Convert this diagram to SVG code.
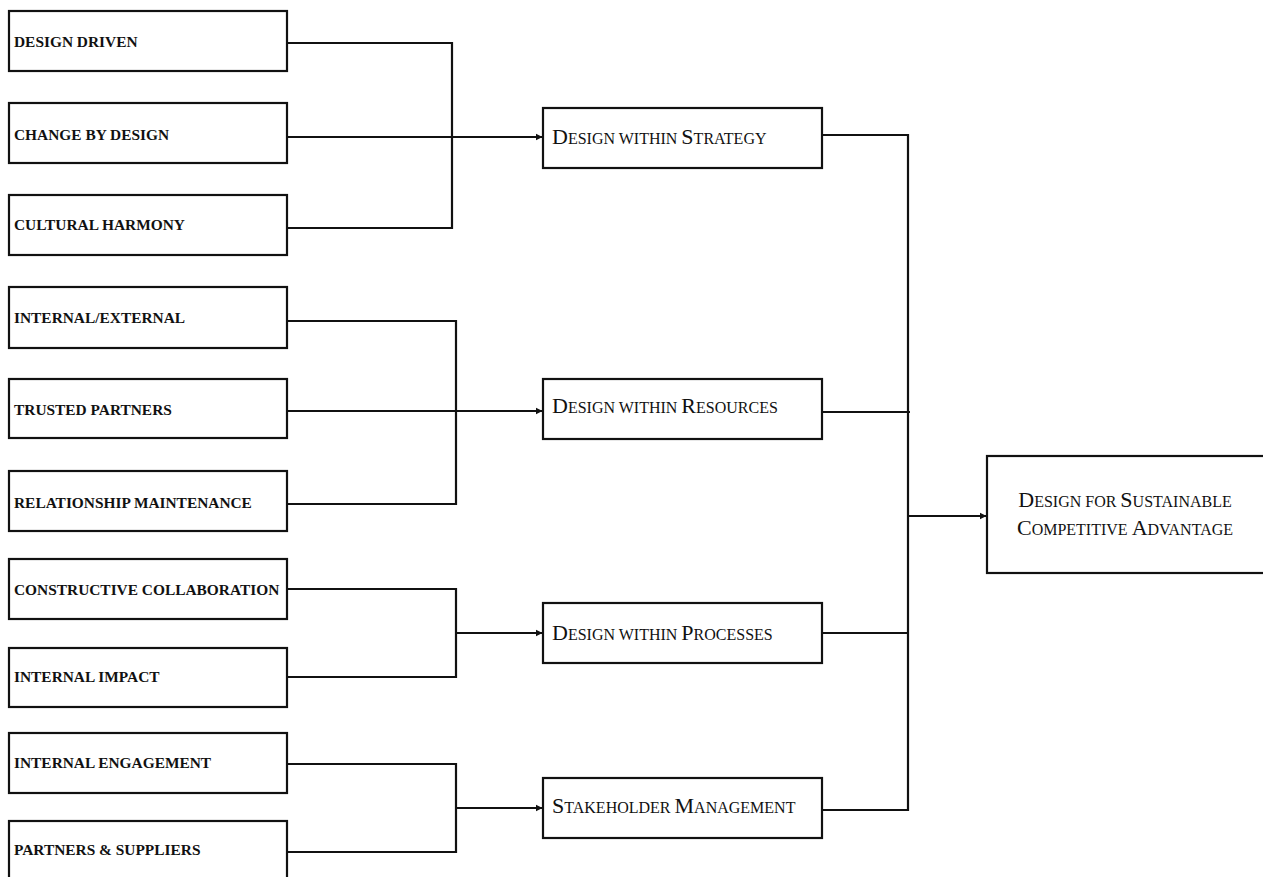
<svg xmlns="http://www.w3.org/2000/svg" width="1263" height="877" viewBox="0 0 1263 877">
  <style>
    .box { fill: #fff; stroke: #111; stroke-width: 2.2; }
    .leaf { font-family: "Liberation Serif", "Times New Roman", serif; font-size: 15.4px; font-weight: bold; fill: #111; }
    .sc { font-family: "Liberation Serif", "Times New Roman", serif; font-size: 16px; fill: #111; }
    .sc .big { font-size: 22px; }
    .wire { fill: none; stroke: #111; stroke-width: 2.2; }
  </style>
  <defs>
    <marker id="arrow" markerWidth="8" markerHeight="8" refX="6" refY="4" orient="auto" markerUnits="userSpaceOnUse">
      <path d="M0,0.8 L6.5,4 L0,7.2 Z" fill="#111"/>
    </marker>
  </defs>
  <rect width="1263" height="877" fill="#fff"/>

  <!-- connectors -->
  <g id="connectors" class="wire">
    <!-- strategy group -->
    <path d="M287,43 H452 V228 H287"/>
    <path d="M287,137 H542" marker-end="url(#arrow)"/>
    <!-- resources group -->
    <path d="M287,321 H456 V504 H287"/>
    <path d="M287,411 H542" marker-end="url(#arrow)"/>
    <!-- processes group -->
    <path d="M287,589 H456 V677 H287"/>
    <path d="M456,633 H542" marker-end="url(#arrow)"/>
    <!-- stakeholder group -->
    <path d="M287,764 H456 V852 H287"/>
    <path d="M456,808 H542" marker-end="url(#arrow)"/>
    <!-- merge into outcome -->
    <path d="M822,135 H908 V810 H822"/>
    <path d="M822,412 H910"/>
    <path d="M822,633 H908"/>
    <path d="M908,516 H986" marker-end="url(#arrow)"/>
  </g>

  <!-- leaf factors -->
  <g id="design-driven"><rect class="box" x="9" y="11" width="278" height="60"/><text class="leaf" x="14" y="47">DESIGN DRIVEN</text></g>
  <g id="change-by-design"><rect class="box" x="9" y="103" width="278" height="60"/><text class="leaf" x="14" y="140">CHANGE BY DESIGN</text></g>
  <g id="cultural-harmony"><rect class="box" x="9" y="195" width="278" height="60"/><text class="leaf" x="14" y="230">CULTURAL HARMONY</text></g>
  <g id="internal-external"><rect class="box" x="9" y="287" width="278" height="61"/><text class="leaf" x="14" y="323">INTERNAL/EXTERNAL</text></g>
  <g id="trusted-partners"><rect class="box" x="9" y="379" width="278" height="59"/><text class="leaf" x="14" y="415">TRUSTED PARTNERS</text></g>
  <g id="relationship-maintenance"><rect class="box" x="9" y="471" width="278" height="60"/><text class="leaf" x="14" y="508">RELATIONSHIP MAINTENANCE</text></g>
  <g id="constructive-collaboration"><rect class="box" x="9" y="559" width="278" height="60"/><text class="leaf" x="14" y="595">CONSTRUCTIVE COLLABORATION</text></g>
  <g id="internal-impact"><rect class="box" x="9" y="648" width="278" height="59"/><text class="leaf" x="14" y="682">INTERNAL IMPACT</text></g>
  <g id="internal-engagement"><rect class="box" x="9" y="733" width="278" height="60"/><text class="leaf" x="14" y="768">INTERNAL ENGAGEMENT</text></g>
  <g id="partners-suppliers"><rect class="box" x="9" y="821" width="278" height="70"/><text class="leaf" x="14" y="855">PARTNERS &amp; SUPPLIERS</text></g>

  <!-- dimensions -->
  <g id="design-within-strategy"><rect class="box" x="543" y="108" width="279" height="60"/>
    <text class="sc" x="552" y="144"><tspan class="big">D</tspan>ESIGN WITHIN <tspan class="big">S</tspan>TRATEGY</text></g>
  <g id="design-within-resources"><rect class="box" x="543" y="379" width="279" height="60"/>
    <text class="sc" x="552" y="413"><tspan class="big">D</tspan>ESIGN WITHIN <tspan class="big">R</tspan>ESOURCES</text></g>
  <g id="design-within-processes"><rect class="box" x="543" y="603" width="279" height="60"/>
    <text class="sc" x="552" y="640"><tspan class="big">D</tspan>ESIGN WITHIN <tspan class="big">P</tspan>ROCESSES</text></g>
  <g id="stakeholder-management"><rect class="box" x="543" y="778" width="279" height="60"/>
    <text class="sc" x="552" y="813"><tspan class="big">S</tspan>TAKEHOLDER <tspan class="big">M</tspan>ANAGEMENT</text></g>

  <!-- outcome -->
  <g id="sustainable-advantage"><rect class="box" x="987" y="456" width="280" height="117"/>
    <text class="sc" x="1125" y="507" text-anchor="middle"><tspan class="big">D</tspan>ESIGN FOR <tspan class="big">S</tspan>USTAINABLE</text>
    <text class="sc" x="1125" y="535" text-anchor="middle"><tspan class="big">C</tspan>OMPETITIVE <tspan class="big">A</tspan>DVANTAGE</text></g>
</svg>
